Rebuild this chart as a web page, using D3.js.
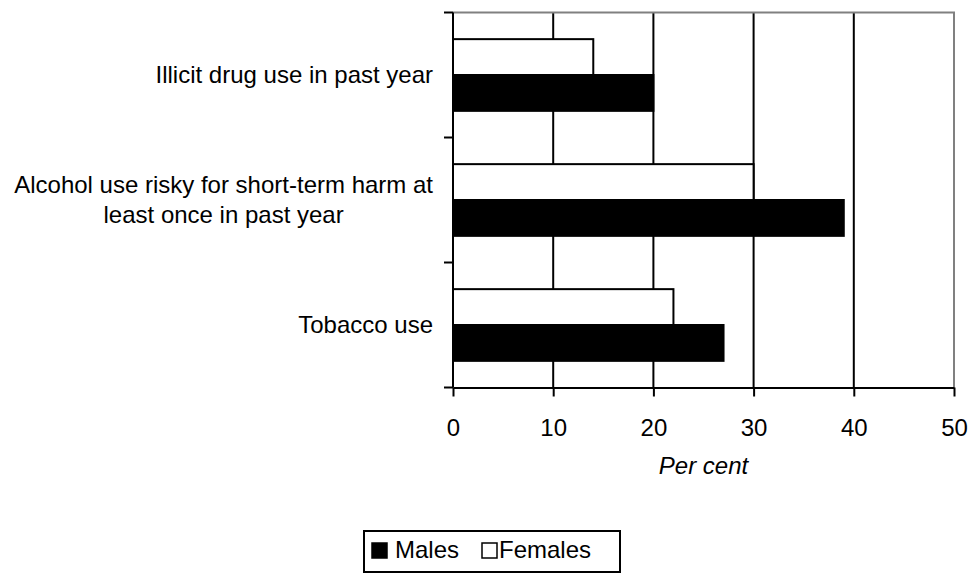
<!DOCTYPE html>
<html>
<head>
<meta charset="utf-8">
<script src="https://cdn.jsdelivr.net/npm/d3@7"></script>
<style>
  body { margin: 0; background: #fff; }
  text { font-family: "Liberation Sans", Arial, sans-serif; fill: #000; }
</style>
</head>
<body>
<div class="chart"></div>
<script>
// data
const categories = [
  ['Illicit drug use in past year'],
  ['Alcohol use risky for short-term harm at', 'least once in past year'],
  ['Tobacco use']
];
const males   = [20, 39, 27];
const females = [14, 30, 22];
const series  = ['Females', 'Males'];
const xTicks  = [0, 10, 20, 30, 40, 50];

const width = 972, height = 573;
const plotLeft = 453, plotRight = 954, plotTop = 12.5, plotBottom = 387.5;

const svg = d3.select('.chart').append('svg')
    .attr('width', width).attr('height', height);

const x = d3.scaleLinear().domain([0, 50]).range([plotLeft, plotRight]);
const y0 = d3.scaleBand().domain(d3.range(categories.length)).range([plotTop, plotBottom]);
const y1 = d3.scaleBand().domain(series).range([0, y0.bandwidth()]).paddingOuter(0.743);

const rows = categories.map((c, i) => ({ i: i, label: c, Males: males[i], Females: females[i] }));

// gridlines
svg.selectAll('line.grid')
    .data(xTicks.filter(t => t > 0 && t < 50))
    .enter().append('line')
    .attr('x1', d => x(d)).attr('x2', d => x(d))
    .attr('y1', plotTop).attr('y2', plotBottom)
    .attr('stroke', '#000').attr('stroke-width', 2);

// plot border (top and right are grey)
svg.append('path')
    .attr('d', 'M' + plotLeft + ',' + plotTop + 'H' + plotRight + 'V' + plotBottom)
    .attr('fill', 'none').attr('stroke', '#808080').attr('stroke-width', 2);

// bars
const g = svg.selectAll('g.cat')
    .data(rows).enter().append('g')
    .attr('transform', d => 'translate(0,' + y0(d.i) + ')');

g.selectAll('rect')
    .data(d => series.map(s => ({ key: s, value: d[s] })))
    .enter().append('rect')
    .attr('x', x(0))
    .attr('y', d => y1(d.key))
    .attr('width', d => x(d.value) - x(0))
    .attr('height', y1.bandwidth())
    .attr('fill', d => d.key === 'Males' ? '#000' : '#fff')
    .attr('stroke', '#000')
    .attr('stroke-width', 2);

// x axis
const xAxis = svg.append('g')
    .attr('transform', 'translate(0,' + plotBottom + ')')
    .call(d3.axisBottom(x).tickValues(xTicks).tickSize(9).tickSizeOuter(0).tickPadding(22));
xAxis.select('.domain').attr('stroke', '#000').attr('stroke-width', 2);
xAxis.selectAll('.tick line').attr('stroke', '#000').attr('stroke-width', 2);
xAxis.selectAll('.tick text').style('font-size', '24px').style('font-family', '"Liberation Sans", Arial, sans-serif');

// y axis: line with ticks at the category boundaries
const yEdges = d3.range(categories.length + 1).map(i => plotTop + i * y0.step());
svg.append('line')
    .attr('x1', plotLeft).attr('x2', plotLeft).attr('y1', plotTop).attr('y2', plotBottom)
    .attr('stroke', '#000').attr('stroke-width', 2);
svg.selectAll('line.ytick')
    .data(yEdges).enter().append('line')
    .attr('x1', plotLeft - 9).attr('x2', plotLeft)
    .attr('y1', d => d).attr('y2', d => d)
    .attr('stroke', '#000').attr('stroke-width', 2);

// category labels: right aligned block, lines centred inside it
const labelRight = 433;
rows.forEach(r => {
  const lh = 30;
  const cy = y0(r.i) + y0.bandwidth() / 2;
  const t = svg.append('text')
      .style('font-size', '24px')
      .attr('text-anchor', 'middle');
  r.label.forEach((line, k) => {
    t.append('tspan')
        .attr('y', cy + 7.5 - (r.label.length - 1) * lh / 2 + k * lh)
        .text(line);
  });
  let w = 0;
  t.selectAll('tspan').each(function () { w = Math.max(w, this.getComputedTextLength()); });
  t.selectAll('tspan').attr('x', labelRight - w / 2);
});

// axis title
svg.append('text')
    .attr('x', (plotLeft + plotRight) / 2).attr('y', 474)
    .attr('text-anchor', 'middle')
    .style('font-size', '24px').style('font-style', 'italic')
    .text('Per cent');

// legend
const legend = svg.append('g');
legend.append('rect')
    .attr('x', 364).attr('y', 531).attr('width', 256).attr('height', 41)
    .attr('fill', '#fff').attr('stroke', '#000').attr('stroke-width', 2);
const legendItems = [
  { key: 'Males', x: 372, fill: '#000', gap: 23 },
  { key: 'Females', x: 482, fill: '#fff', gap: 17 }
];
const li = legend.selectAll('g.item').data(legendItems).enter().append('g');
li.append('rect')
    .attr('x', d => d.x).attr('y', 543).attr('width', 15).attr('height', 15)
    .attr('fill', d => d.fill).attr('stroke', '#000').attr('stroke-width', 1.5);
li.append('text')
    .attr('x', d => d.x + d.gap).attr('y', 558)
    .style('font-size', '24px')
    .text(d => d.key);
</script>
</body>
</html>
